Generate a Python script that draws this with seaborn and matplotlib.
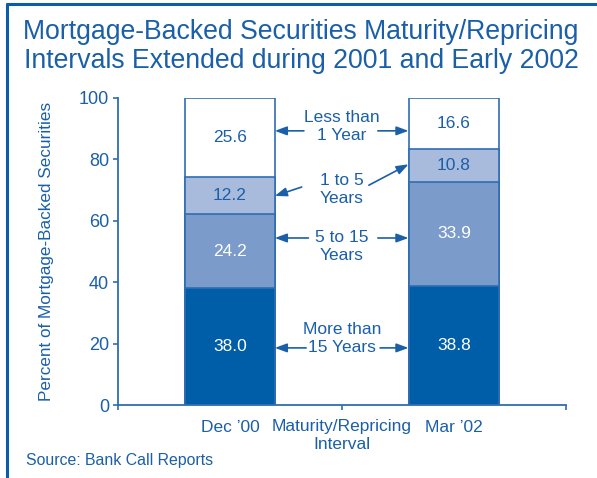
import numpy as np
import pandas as pd
import matplotlib
matplotlib.use("Agg")
import matplotlib.pyplot as plt
import seaborn as sns

# Data: share of mortgage-backed securities by maturity/repricing interval
periods = ["Dec \u201900", "Mar \u201902"]
period_pos = [0.5, 1.5]
more_than_15 = [38.0, 38.8]
five_to_15 = [24.2, 33.9]
one_to_5 = [12.2, 10.8]
less_than_1 = [25.6, 16.6]

segment_names = ["More than\n15 Years", "5 to 15\nYears", "1 to 5\nYears", "Less than\n1 Year"]
segment_values = [more_than_15, five_to_15, one_to_5, less_than_1]
segment_colors = ["#005DA8", "#7B9BCB", "#A9BBDD", "#FFFFFF"]
segment_text = ["white", "white", "#1A5FA8", "#1A5FA8"]

BLUE = "#1A5FA8"
LINE = "#2F6DB3"
FS = 12.5

sns.set_theme(style="white")
plt.rcParams["font.family"] = ["Liberation Sans", "DejaVu Sans"]

W, H = 597, 478
fig = plt.figure(figsize=(W / 100, H / 100), dpi=100)
ax = fig.add_axes([118 / W, 1 - 405 / H, 448 / W, 307 / H])

vals = np.array(segment_values)
tops = np.cumsum(vals, axis=0)
bottoms = tops - vals

# Stacked bars drawn tallest-first so each lower cumulative layer sits on top
for i in range(len(segment_values) - 1, -1, -1):
    df = pd.DataFrame({"pos": period_pos, "top": tops[i]})
    sns.barplot(data=df, x="pos", y="top", native_scale=True, width=0.405,
                color=segment_colors[i], saturation=1, edgecolor=LINE,
                linewidth=1.2, ax=ax, zorder=2)

# Value labels centred in each segment
for i in range(len(segment_values)):
    for j, x in enumerate(period_pos):
        yc = bottoms[i][j] + vals[i][j] / 2
        ax.text(x, yc, f"{vals[i][j]:.1f}", ha="center", va="center",
                fontsize=FS, color=segment_text[i], zorder=4)

ax.set_xlim(0, 2)
ax.set_ylim(0, 100)

# Segment names in the gap between the bars, with arrows to each bar
label_y = [21.7, 51.6, 70.2, 90.7]
arrow_specs = [
    # (left start, left end, right start, right end)
    ((0.84, 18.6), (0.70, 18.6), (1.17, 18.6), (1.297, 18.6)),
    ((0.85, 54.4), (0.70, 54.4), (1.16, 54.4), (1.297, 54.4)),
    ((0.82, 71.0), (0.70, 68.1), (1.12, 71.6), (1.297, 78.4)),
    ((0.83, 89.3), (0.70, 89.3), (1.16, 89.3), (1.297, 89.3)),
]
for name, y, spec in zip(segment_names, label_y, arrow_specs):
    ax.text(1.0, y, name, ha="center", va="center", fontsize=FS,
            color=BLUE, linespacing=1.3, zorder=4)
    l0, l1, r0, r1 = spec
    for start, end in ((l0, l1), (r0, r1)):
        ax.annotate("", xy=end, xytext=start,
                    arrowprops=dict(arrowstyle="-|>,head_length=0.6,head_width=0.22",
                                    color=BLUE, lw=1.2, shrinkA=0, shrinkB=0),
                    zorder=5)

# Axes styling
sns.despine(ax=ax)
for side in ("left", "bottom"):
    ax.spines[side].set_color(LINE)
    ax.spines[side].set_linewidth(1.3)

ax.set_yticks([0, 20, 40, 60, 80, 100])
ax.tick_params(axis="y", which="major", direction="out", length=3.5, width=1.2,
               color=LINE, labelcolor=BLUE, labelsize=13, pad=3, left=True)

ax.set_xticks([0, 1, 2])
ax.set_xticklabels(["", "Maturity/Repricing\nInterval", ""])
ax.set_xticks(period_pos, minor=True)
ax.set_xticklabels(periods, minor=True)
ax.tick_params(axis="x", which="major", direction="out", length=3.5, width=1.2,
               color=LINE, labelcolor=BLUE, labelsize=FS, pad=6.5, bottom=True)
ax.tick_params(axis="x", which="minor", length=0, labelcolor=BLUE,
               labelsize=FS, pad=10.5)
for t in ax.get_xticklabels():
    t.set_linespacing(1.25)
ax.set_xlabel("")

ax.set_ylabel("Percent of Mortgage-Backed Securities", color=BLUE, fontsize=12.3)
ax.yaxis.set_label_coords(-0.143, 0.5)

# Title, source note and the partial frame
fig.text(301 / W, 1 - 19 / H,
         "Mortgage-Backed Securities Maturity/Repricing\nIntervals Extended during 2001 and Early 2002",
         ha="center", va="top", fontsize=19.2, color=BLUE, linespacing=1.17)
fig.text(26 / W, 1 - 460 / H, "Source: Bank Call Reports", ha="left",
         va="center", fontsize=11.4, color=BLUE)
fig.add_artist(plt.Line2D([7 / W, 7 / W], [0, 1 - 4 / H], color="#0A5DA8",
                          lw=2.2, transform=fig.transFigure))
fig.add_artist(plt.Line2D([7 / W, 1], [1 - 4 / H, 1 - 4 / H], color="#0A5DA8",
                          lw=2.2, transform=fig.transFigure))

fig.savefig("out.png", dpi=100)
